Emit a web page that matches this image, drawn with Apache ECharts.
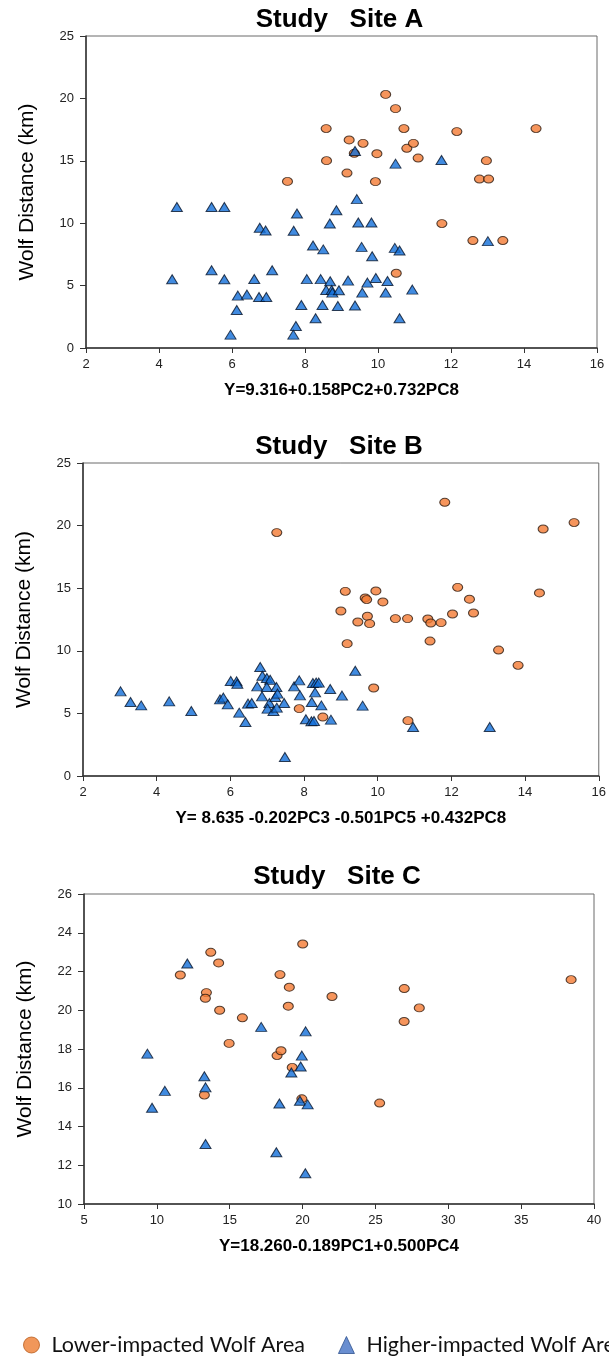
<!DOCTYPE html>
<html><head><meta charset="utf-8">
<script src="https://cdn.jsdelivr.net/npm/echarts@6/dist/echarts.min.js"></script>
<style>html,body{margin:0;padding:0;background:#fff;overflow:hidden;}#c{width:609px;height:1357px;}</style>
</head><body><div id="c"></div>
<script>
// ---------- DATA ----------
const titles = ['Study   Site A', 'Study   Site B', 'Study   Site C'];
const formulas = ['Y=9.316+0.158PC2+0.732PC8', 'Y= 8.635 -0.202PC3 -0.501PC5 +0.432PC8', 'Y=18.260-0.189PC1+0.500PC4'];
const yAxisTitle = 'Wolf Distance (km)';
const lowerName = 'Lower-impacted Wolf Area';
const higherName = 'Higher-impacted Wolf Area';

const xRangeA = [2, 16, 2], yRangeA = [0, 25, 5];
const xRangeB = [2, 16, 2], yRangeB = [0, 25, 5];
const xRangeC = [5, 40, 5], yRangeC = [10, 26, 2];

const siteA_lower = [[7.52,13.35],[8.58,17.58],[8.59,15.01],[9.15,14.02],[9.21,16.67],[9.35,15.60],[9.59,16.40],[9.93,13.33],[9.97,15.57],[10.21,20.32],[10.48,19.18],[10.71,17.58],[10.79,16.00],[10.97,16.40],[11.10,15.22],[12.16,17.34],[12.97,15.01],[12.78,13.54],[13.03,13.54],[14.33,17.58],[11.75,9.97],[12.60,8.61],[13.42,8.61],[10.50,5.99]];
const siteA_higher = [[4.49,11.3],[5.44,11.3],[5.79,11.3],[4.36,5.51],[5.44,6.23],[5.79,5.51],[6.76,9.63],[6.92,9.41],[7.69,9.39],[7.78,10.78],[7.10,6.23],[6.61,5.53],[6.16,4.20],[6.41,4.28],[6.74,4.09],[6.94,4.09],[6.13,3.05],[5.96,1.07],[7.75,1.76],[7.68,1.07],[7.90,3.45],[8.05,5.52],[8.22,8.21],[8.50,7.90],[8.43,5.52],[8.29,2.38],[8.48,3.45],[8.68,9.97],[9.42,11.93],[8.86,11.04],[9.46,10.05],[9.82,10.05],[9.55,8.10],[9.84,7.35],[10.46,8.02],[10.59,7.81],[13.01,8.56],[8.69,5.35],[9.18,5.40],[9.94,5.61],[10.26,5.37],[9.71,5.24],[8.58,4.65],[8.73,4.65],[8.75,4.44],[8.93,4.63],[9.57,4.44],[10.21,4.44],[10.94,4.68],[8.90,3.37],[9.37,3.40],[10.59,2.38],[9.37,15.79],[10.48,14.77],[11.74,15.06]];

const siteB_lower = [[7.26,19.44],[11.82,21.86],[14.49,19.73],[15.33,20.24],[9.12,14.75],[9.95,14.78],[9.66,14.22],[9.70,14.09],[10.14,13.90],[12.17,15.07],[12.49,14.12],[14.39,14.62],[9.00,13.18],[12.60,13.02],[12.03,12.94],[9.72,12.76],[9.46,12.30],[9.78,12.17],[10.48,12.57],[10.81,12.57],[11.36,12.54],[11.44,12.22],[11.72,12.25],[9.17,10.57],[11.42,10.78],[13.28,10.06],[13.81,8.84],[9.89,7.03],[8.51,4.71],[10.82,4.42],[7.87,5.38]];
const siteB_higher = [[3.02,6.76],[3.29,5.91],[3.58,5.64],[4.34,5.96],[4.94,5.19],[6.81,8.71],[6.87,8.01],[6.01,7.59],[6.17,7.56],[6.19,7.37],[6.99,7.83],[7.08,7.69],[6.73,7.16],[6.99,7.11],[7.25,7.11],[7.73,7.16],[7.87,7.64],[8.24,7.43],[8.33,7.46],[8.40,7.46],[7.89,6.44],[8.30,6.68],[8.21,5.91],[8.47,5.64],[8.05,4.53],[8.20,4.37],[8.27,4.39],[7.48,1.52],[7.46,5.83],[6.86,6.36],[7.06,5.83],[7.01,5.38],[7.17,5.19],[7.22,6.31],[7.28,6.58],[7.26,5.46],[5.72,6.12],[5.81,6.26],[5.93,5.72],[6.24,5.06],[6.41,4.31],[6.48,5.78],[6.58,5.83],[8.71,6.95],[9.03,6.42],[9.39,8.41],[9.59,5.62],[8.73,4.50],[10.96,3.91],[13.04,3.91]];

const siteC_lower = [[11.61,21.82],[13.70,22.99],[14.24,22.44],[13.40,20.91],[13.33,20.62],[14.31,20.00],[15.87,19.61],[14.96,18.29],[13.26,15.62],[18.45,21.84],[19.09,21.19],[19.02,20.21],[20.01,23.42],[22.02,20.71],[26.98,21.12],[28.01,20.12],[26.97,19.42],[38.43,21.58],[18.25,17.66],[18.52,17.91],[19.29,17.05],[19.95,15.43],[25.29,15.21]];
const siteC_higher = [[12.09,22.41],[9.35,17.76],[9.67,14.97],[10.55,15.84],[13.26,16.59],[13.34,16.02],[13.34,13.10],[17.16,19.14],[20.21,18.91],[19.95,17.66],[19.87,17.10],[19.23,16.79],[18.41,15.19],[19.82,15.33],[20.35,15.14],[18.20,12.67],[20.19,11.59]];

// ---------- STYLE ----------
const FONT = 'Liberation Sans, Arial, sans-serif';
const ellipse = 'path://M0,50A50,50,0,1,1,100,50A50,50,0,1,1,0,50Z';
const lowerStyle = {color:'#F47A33', borderColor:'#2a1a10', borderWidth:1};
const higherStyle = {color:'#126ED8', borderColor:'#06142a', borderWidth:1};

const grids = [
  {left:86, top:36, width:511, height:312},
  {left:83, top:463, width:516, height:313},
  {left:84, top:894, width:510, height:310}
];
const titleTops = [7, 434, 864];
const xRanges = [xRangeA, xRangeB, xRangeC];
const yRanges = [yRangeA, yRangeB, yRangeC];
const lowers = [siteA_lower, siteB_lower, siteC_lower];
const highers = [siteA_higher, siteB_higher, siteC_higher];

const option = {
  backgroundColor:'#fff',
  animation:false,
  title: grids.map((g,i)=>({
    text: titles[i], left: g.left + g.width/2 - 2, top: titleTops[i], padding:0,
    textAlign:'center', textVerticalAlign:'top',
    textStyle:{fontFamily:FONT, fontWeight:'bold', fontSize:26, color:'#000'}
  })),
  grid: grids.map(g=>Object.assign({show:true, borderColor:'#6a6a6a', borderWidth:1, backgroundColor:'transparent'}, g)),
  xAxis: grids.map((g,i)=>({
    type:'value', gridIndex:i, min:xRanges[i][0], max:xRanges[i][1], interval:xRanges[i][2],
    name: formulas[i], nameLocation:'middle', nameGap:34,
    nameTextStyle:{fontFamily:FONT, fontWeight:'bold', fontSize:17, color:'#000'},
    axisLine:{onZero:false, lineStyle:{color:'#333', width:1.5}},
    axisTick:{inside:false, length:5, lineStyle:{color:'#333'}},
    axisLabel:{fontFamily:FONT, fontSize:13, color:'#222', margin:10},
    splitLine:{show:false}
  })),
  yAxis: grids.map((g,i)=>({
    type:'value', gridIndex:i, min:yRanges[i][0], max:yRanges[i][1], interval:yRanges[i][2],
    name: yAxisTitle, nameLocation:'middle', nameGap:48,
    nameTextStyle:{fontFamily:FONT, fontSize:21, color:'#000'},
    axisLine:{onZero:false, lineStyle:{color:'#333', width:1.5}},
    axisTick:{inside:false, length:6, lineStyle:{color:'#333'}},
    axisLabel:{fontFamily:FONT, fontSize:13, color:'#222', margin:12},
    splitLine:{show:false}
  })),
  legend:{
    left:23, top:1334, padding:0, width:2000, itemGap:33, selectedMode:false,
    itemWidth:16, itemHeight:17,
    textStyle:{fontFamily:'Lato, sans-serif', fontSize:21.5, color:'#111', padding:[0,0,0,7]},
    data:[
      {name:lowerName, icon:'circle', itemStyle:{color:'#ED7D31', borderColor:'#B85F22', borderWidth:1}},
      {name:higherName, icon:'triangle', itemStyle:{color:'#4472C4', borderColor:'#2F528F', borderWidth:1}}
    ]
  },
  series: []
};
for (let i=0;i<3;i++){
  option.series.push({type:'scatter', name:lowerName, xAxisIndex:i, yAxisIndex:i, data:lowers[i],
    symbol:ellipse, symbolSize:[10,8], itemStyle:lowerStyle, z:2});
}
for (let i=0;i<3;i++){
  option.series.push({type:'scatter', name:higherName, xAxisIndex:i, yAxisIndex:i, data:highers[i],
    symbol:'triangle', symbolSize:[11,9], itemStyle:higherStyle, z:3});
}
const chart = echarts.init(document.getElementById('c'), null, {renderer:'canvas'});
chart.setOption(option);
</script>
</body></html>
